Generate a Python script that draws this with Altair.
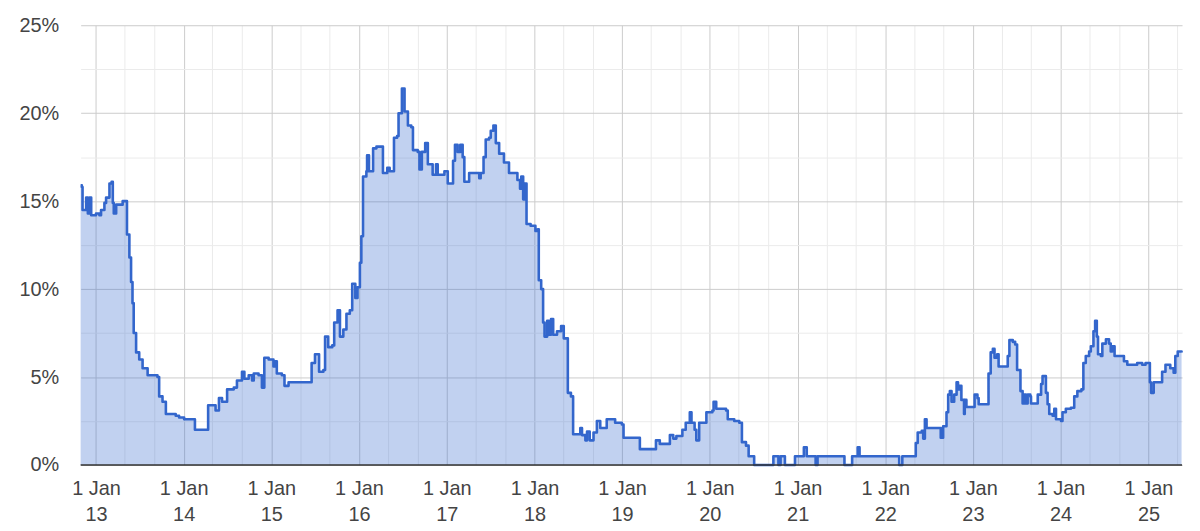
import altair as alt
import pandas as pd

# ---- data ----
dates_2012 = ["2012-10-29", "2012-11-03", "2012-11-06", "2012-11-21", "2012-11-28", "2012-12-05", "2012-12-12"]
vals_2012 = [15.9, 15.8, 14.5, 15.2, 14.3, 15.2, 14.2]

dates_2013 = ["2013-01-01", "2013-01-15", "2013-01-22", "2013-02-05", "2013-02-12", "2013-02-26", "2013-03-07",
              "2013-03-12", "2013-03-16", "2013-03-26", "2013-04-22", "2013-05-06", "2013-05-10", "2013-05-20",
              "2013-05-27", "2013-06-02", "2013-06-07", "2013-06-17", "2013-06-30", "2013-07-14", "2013-08-04",
              "2013-09-14", "2013-09-21", "2013-10-05", "2013-10-19", "2013-11-29", "2013-12-13"]
vals_2013 = [14.3, 14.2, 14.5, 14.9, 15.2, 16.0, 16.1, 14.9, 14.3, 14.8, 15.0, 15.0, 13.1, 11.8,
             10.4, 9.2, 7.5, 6.4, 6.0, 5.5, 5.1, 5.0, 3.9, 3.6, 2.9, 2.8, 2.7]

dates_2014 = ["2014-01-03", "2014-02-13", "2014-02-17", "2014-04-07", "2014-04-13", "2014-05-07", "2014-05-14",
              "2014-05-28", "2014-06-10", "2014-07-01", "2014-07-29", "2014-08-11", "2014-09-01", "2014-09-11",
              "2014-09-29", "2014-10-13", "2014-10-20", "2014-11-09", "2014-11-23", "2014-12-03", "2014-12-21"]
vals_2014 = [2.6, 2.6, 2.0, 2.0, 3.4, 3.4, 3.1, 3.8, 3.6, 4.3, 4.4, 4.8, 5.3, 4.9,
             5.1, 4.8, 5.2, 5.1, 4.4, 6.1, 6.0]

dates_2015 = ["2015-01-10", "2015-01-18", "2015-01-24", "2015-02-14", "2015-02-25", "2015-03-14", "2015-06-12",
              "2015-06-18", "2015-07-02", "2015-07-19", "2015-08-06", "2015-08-13", "2015-08-26", "2015-09-12",
              "2015-09-20", "2015-10-04", "2015-10-14", "2015-10-28", "2015-11-10", "2015-11-24", "2015-12-04",
              "2015-12-17", "2015-12-26"]
vals_2015 = [5.6, 5.9, 5.2, 5.1, 4.5, 4.7, 4.7, 5.8, 6.3, 5.3, 5.4, 7.3, 6.7, 6.8,
             8.1, 8.8, 7.3, 7.7, 8.6, 8.8, 10.3, 9.5, 10.1]

dates_2016 = ["2016-01-05", "2016-01-11", "2016-01-18", "2016-02-01", "2016-02-04", "2016-02-12", "2016-02-29",
              "2016-03-14", "2016-03-28", "2016-04-10", "2016-04-28", "2016-05-08", "2016-05-26", "2016-06-08",
              "2016-06-14", "2016-06-28", "2016-07-09", "2016-07-23", "2016-08-06", "2016-08-13", "2016-09-02",
              "2016-09-09", "2016-09-19", "2016-10-03", "2016-10-14", "2016-11-03", "2016-11-17", "2016-11-24",
              "2016-12-22"]
vals_2016 = [11.5, 13.0, 16.4, 16.7, 17.6, 16.7, 18.0, 18.1, 18.1, 16.6, 16.9, 16.7, 18.6, 18.7,
             20.0, 21.4, 20.1, 19.3, 19.2, 17.9, 17.8, 16.8, 17.8, 18.3, 17.1, 16.5, 17.1, 16.5, 16.7]

dates_2017 = ["2017-01-05", "2017-01-16", "2017-01-27", "2017-02-04", "2017-02-15", "2017-02-26", "2017-03-08",
              "2017-03-15", "2017-04-04", "2017-05-02", "2017-05-16", "2017-05-22", "2017-06-03", "2017-06-12",
              "2017-06-26", "2017-07-03", "2017-07-14", "2017-07-24", "2017-08-07", "2017-08-27", "2017-09-17",
              "2017-10-05", "2017-10-22", "2017-11-02", "2017-11-07", "2017-11-15", "2017-11-22", "2017-11-29",
              "2017-12-16"]
vals_2017 = [16.0, 16.0, 17.3, 18.2, 17.8, 18.2, 17.5, 16.1, 16.6, 16.6, 16.3, 16.6, 17.5, 18.5,
             18.6, 19.0, 19.3, 18.3, 17.7, 17.2, 16.6, 16.6, 16.2, 15.7, 16.4, 15.1, 16.0, 13.7, 13.6]

dates_2018 = ["2018-01-01", "2018-01-05", "2018-01-15", "2018-01-19", "2018-01-29", "2018-02-06", "2018-02-12",
              "2018-02-23", "2018-03-02", "2018-03-11", "2018-03-20", "2018-04-05", "2018-04-22", "2018-05-03",
              "2018-05-17", "2018-05-20", "2018-06-02", "2018-06-11", "2018-07-04", "2018-07-11", "2018-07-18",
              "2018-08-01", "2018-08-08", "2018-08-19", "2018-09-04", "2018-09-18", "2018-10-02", "2018-10-22",
              "2018-10-29", "2018-11-19", "2018-12-03", "2018-12-31"]
vals_2018 = [13.6, 13.3, 13.4, 10.5, 10.0, 8.1, 7.3, 8.2, 7.4, 8.3, 7.4, 7.6, 7.9, 7.2,
             7.2, 4.1, 3.9, 1.75, 1.75, 2.1, 1.7, 1.4, 1.9, 1.4, 1.85, 2.5, 2.1, 2.1,
             2.6, 2.6, 2.4, 2.3]

dates_2019 = ["2019-01-07", "2019-03-10", "2019-03-16", "2019-05-17", "2019-05-22", "2019-06-07", "2019-07-16",
              "2019-07-19", "2019-08-02", "2019-08-15", "2019-09-09", "2019-09-23", "2019-10-10", "2019-10-17",
              "2019-10-30", "2019-11-06", "2019-11-18", "2019-12-18"]
vals_2019 = [1.55, 1.55, 0.9, 0.9, 1.4, 1.2, 1.2, 1.7, 1.5, 1.65, 2.0, 2.4, 3.0, 2.4,
             2.0, 1.4, 2.4, 3.0]

dates_2020 = ["2020-01-12", "2020-01-17", "2020-01-28", "2020-03-09", "2020-03-16", "2020-04-12", "2020-05-03",
              "2020-05-14", "2020-05-31", "2020-06-11", "2020-06-27", "2020-07-04", "2020-09-18", "2020-09-22",
              "2020-10-09", "2020-10-13", "2020-10-22", "2020-11-05", "2020-11-09", "2020-12-17", "2020-12-21"]
vals_2020 = [3.1, 3.6, 3.2, 3.1, 2.6, 2.5, 2.4, 1.3, 1.1, 0.5, 0.5, 0.0, 0.0, 0.5,
             0.5, 0.0, 0.5, 0.5, 0.0, 0.0, 0.5]

dates_2021 = ["2021-01-24", "2021-01-27", "2021-02-04", "2021-02-08", "2021-03-14", "2021-03-17", "2021-03-22",
              "2021-03-25", "2021-07-12", "2021-07-15", "2021-08-13", "2021-08-16", "2021-09-06", "2021-09-08",
              "2021-09-13", "2021-09-16"]
vals_2021 = [0.5, 1.0, 1.0, 0.5, 0.5, 0.0, 0.0, 0.5, 0.5, 0.0, 0.0, 0.5, 0.5, 1.0, 1.0, 0.5]

dates_2022 = ["2022-02-25", "2022-02-28", "2022-03-10", "2022-03-13", "2022-05-02", "2022-05-08", "2022-05-16",
              "2022-06-02", "2022-06-08", "2022-06-15", "2022-06-22", "2022-08-16", "2022-08-20", "2022-08-30",
              "2022-09-09", "2022-09-13", "2022-09-20", "2022-09-27", "2022-10-04", "2022-10-15", "2022-10-25",
              "2022-10-31", "2022-11-07", "2022-11-14", "2022-11-25", "2022-11-28", "2022-12-05"]
vals_2022 = [0.5, 0.0, 0.0, 0.5, 0.5, 1.25, 1.85, 1.95, 1.5, 2.6, 2.1, 2.1, 1.55, 2.2,
             2.2, 3.0, 4.0, 4.2, 3.6, 4.0, 4.7, 4.3, 4.5, 3.7, 2.9, 3.7, 3.3]

dates_2023 = ["2023-01-01", "2023-01-08", "2023-01-20", "2023-01-25", "2023-02-26", "2023-03-07", "2023-03-16",
              "2023-03-25", "2023-04-01", "2023-04-12", "2023-04-18", "2023-05-20", "2023-05-26", "2023-06-02",
              "2023-06-16", "2023-06-26", "2023-07-04", "2023-07-18", "2023-07-27", "2023-08-03", "2023-08-10",
              "2023-08-17", "2023-08-28", "2023-08-31", "2023-09-21", "2023-09-28", "2023-10-12", "2023-10-18",
              "2023-10-28", "2023-11-01", "2023-11-08", "2023-11-15", "2023-11-29", "2023-12-06", "2023-12-13"]
vals_2023 = [3.3, 4.0, 3.8, 3.45, 3.45, 5.2, 6.4, 6.6, 6.1, 6.3, 5.6, 5.6, 6.2, 7.1,
             7.0, 6.85, 5.4, 4.2, 3.5, 4.0, 3.5, 4.0, 3.9, 3.5, 3.5, 4.0, 4.6, 5.05,
             5.05, 4.1, 3.45, 2.9, 2.8, 3.2, 2.6]

dates_2024 = ["2024-01-03", "2024-01-09", "2024-01-23", "2024-02-13", "2024-02-27", "2024-03-11", "2024-03-28",
              "2024-04-05", "2024-04-15", "2024-04-29", "2024-05-06", "2024-05-17", "2024-05-24", "2024-05-31",
              "2024-06-05", "2024-06-17", "2024-06-23", "2024-07-08", "2024-07-21", "2024-07-28", "2024-08-03",
              "2024-08-13", "2024-09-07", "2024-09-21", "2024-10-05", "2024-11-08", "2024-11-15", "2024-12-06",
              "2024-12-20", "2024-12-29"]
vals_2024 = [2.5, 3.0, 3.2, 3.25, 3.9, 4.2, 4.3, 5.8, 6.2, 6.45, 6.75, 7.6, 8.2, 7.3,
             6.3, 6.2, 6.9, 7.15, 6.9, 6.45, 6.75, 6.2, 6.2, 5.9, 5.7, 5.7, 5.8, 5.7,
             5.8, 5.8]

dates_2025 = ["2025-01-07", "2025-01-12", "2025-01-23", "2025-02-20", "2025-02-27", "2025-03-13", "2025-04-02",
              "2025-04-16", "2025-04-23", "2025-05-03", "2025-05-19"]
vals_2025 = [4.7, 4.1, 4.7, 4.7, 5.3, 5.7, 5.5, 5.25, 6.2, 6.45, 6.4]

date_groups = [dates_2012, dates_2013, dates_2014, dates_2015, dates_2016, dates_2017, dates_2018,
               dates_2019, dates_2020, dates_2021, dates_2022, dates_2023, dates_2024, dates_2025]
value_groups = [vals_2012, vals_2013, vals_2014, vals_2015, vals_2016, vals_2017, vals_2018,
                vals_2019, vals_2020, vals_2021, vals_2022, vals_2023, vals_2024, vals_2025]

dates, values = [], []
for d, v in zip(date_groups, value_groups):
    assert len(d) == len(v), (d[0], len(d), len(v))
    dates += d
    values += v

df = pd.DataFrame({"date": dates, "value": values})

# axis ticks
tick_years = list(range(2013, 2026))
minor_months = [5, 9]
y_major = [0, 5, 10, 15, 20, 25]
y_minor = [2.5, 7.5, 12.5, 17.5, 22.5]

major_dates = [alt.DateTime(year=y, month=1, date=1, utc=True) for y in tick_years]
minor_dates = [alt.DateTime(year=y, month=m, date=1, utc=True)
               for y in tick_years for m in minor_months if not (y == 2025 and m == 9)]

x_scale = alt.Scale(type="utc",
                    domain=[alt.DateTime(year=2012, month=10, date=29, utc=True),
                            alt.DateTime(year=2025, month=5, date=21, utc=True)])
y_scale = alt.Scale(domain=[0, 25], nice=False, zero=True)

BLUE = "#3366cc"

minor_layer = alt.Chart(df).mark_line(opacity=0).encode(
    x=alt.X("date:T", scale=x_scale,
            axis=alt.Axis(values=minor_dates, grid=True, gridColor="#ebebeb", gridWidth=1,
                          labels=False, ticks=False, domain=False, title=None, orient="bottom")),
    y=alt.Y("value:Q", scale=y_scale,
            axis=alt.Axis(values=y_minor, grid=True, gridColor="#ebebeb", gridWidth=1,
                          labels=False, ticks=False, domain=False, title=None, orient="left")),
)

area_layer = alt.Chart(df).mark_area(color=BLUE, opacity=0.3, interpolate="step-after").encode(
    x=alt.X("date:T", scale=x_scale,
            axis=alt.Axis(values=major_dates, grid=True, gridColor="#cccccc", gridWidth=1,
                          ticks=False, tickSize=0, domain=False, title=None, orient="bottom",
                          labelExpr="['1 Jan', utcFormat(datum.value, '%y')]",
                          labelBaseline="top", labelPadding=14, labelLineHeight=26,
                          labelAlign="center", labelFlush=False, labelOverlap=False)),
    y=alt.Y("value:Q", scale=y_scale,
            axis=alt.Axis(values=y_major, grid=True, gridColor="#cccccc", gridWidth=1,
                          ticks=False, tickSize=0, domain=False, title=None, orient="left",
                          labelExpr="datum.value + '%'", labelPadding=22,
                          labelBaseline="middle")),
)

line_layer = alt.Chart(df).mark_line(color=BLUE, strokeWidth=2.6, strokeJoin="round",
                                     interpolate="step-after").encode(
    x=alt.X("date:T", scale=x_scale, axis=None),
    y=alt.Y("value:Q", scale=y_scale, axis=None),
)

baseline_df = pd.DataFrame({"v": [0]})
baseline_layer = alt.Chart(baseline_df).mark_rule(color="#333333", strokeWidth=1.5).encode(
    y=alt.Y("v:Q", scale=y_scale, axis=None),
)

chart = alt.layer(minor_layer, area_layer, line_layer, baseline_layer).resolve_axis(
    x="independent", y="independent"
).properties(
    width=1107,
    height=442,
    autosize=alt.AutoSizeParams(type="none"),
    padding={"left": 73, "top": 16, "right": 10, "bottom": 60},
).configure_axis(
    labelFont="Liberation Sans",
    labelFontSize=20,
    labelColor="#444444",
).configure_view(stroke=None)

chart.save("out.html", embed_options={"renderer": "svg", "actions": False})
